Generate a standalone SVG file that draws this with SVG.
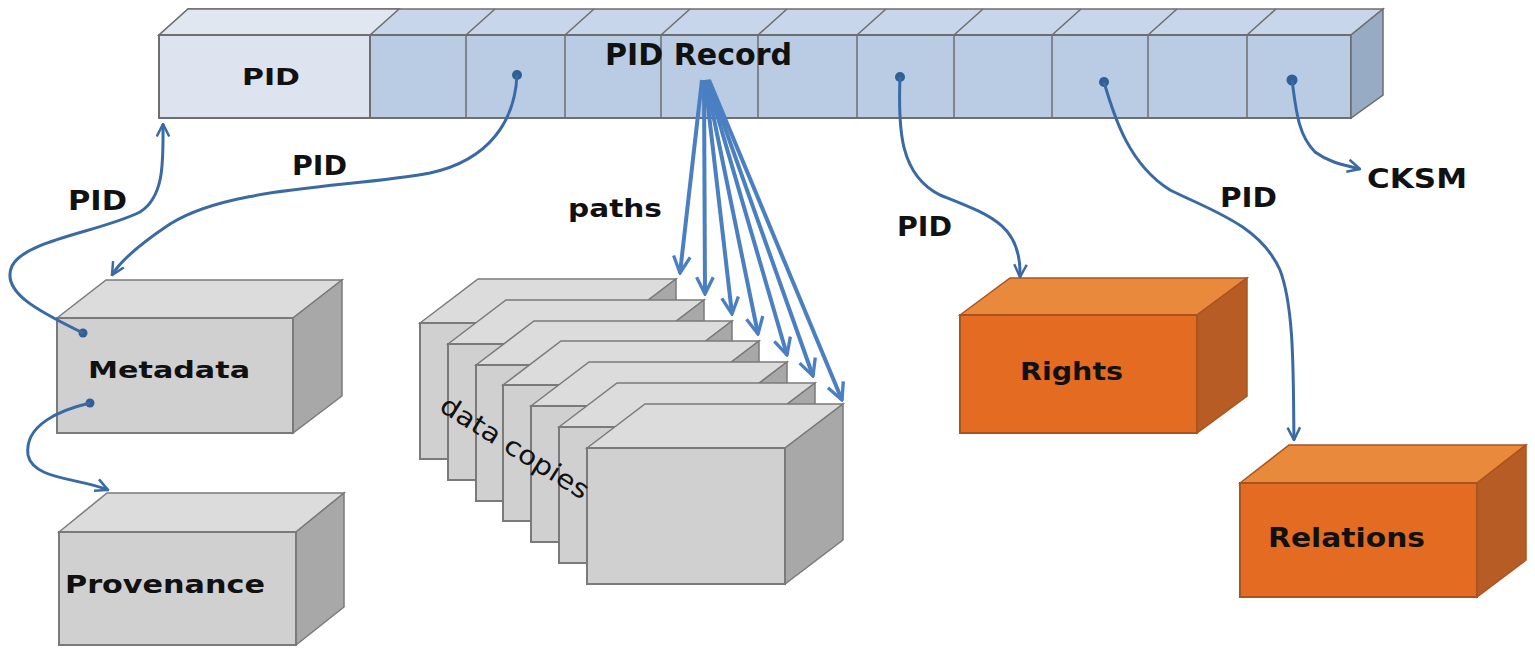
<svg xmlns="http://www.w3.org/2000/svg" width="1535" height="655" viewBox="0 0 1535 655">
<style>
.lbl{font-family:"DejaVu Sans","Liberation Sans",sans-serif;font-weight:bold;fill:#111}
.gf{fill:#d0d0d0;stroke:#7a7a7a;stroke-width:2}
.gt{fill:#dcdcdc;stroke:#7a7a7a;stroke-width:1.5}
.gs{fill:#a8a8a8;stroke:#7a7a7a;stroke-width:1.5}
.of{fill:#e36c22;stroke:#a9541f;stroke-width:2}
.ot{fill:#e9893b;stroke:#a9541f;stroke-width:1.5}
.os{fill:#b85c25;stroke:#a9541f;stroke-width:1.5}
.bf{fill:#b9cce4;stroke:#6e6e6e;stroke-width:2}
.bt{fill:#c7d6ea;stroke:#6e6e6e;stroke-width:1.5}
.bs{fill:#97abc4;stroke:#6e6e6e;stroke-width:1.5}
.div{stroke:#6e6e6e;stroke-width:1.5}
.con{fill:none;stroke:#3a6aa3;stroke-width:3;marker-end:url(#ah)}
.fan{fill:none;stroke:#4a7fc1;stroke-width:4;marker-end:url(#ahf)}
.dot{fill:#2f5f94}
</style>
<defs>
<marker id="ah" viewBox="0 0 12 12" refX="11" refY="6" markerWidth="5" markerHeight="5" orient="auto" markerUnits="strokeWidth">
<path d="M1,1 L11,6 L1,11" fill="none" stroke="#3a6aa3" stroke-width="2"/>
</marker>
<marker id="ahf" viewBox="0 0 12 12" refX="11" refY="6" markerWidth="5" markerHeight="5" orient="auto" markerUnits="strokeWidth">
<path d="M1,1 L11,6 L1,11" fill="none" stroke="#4a7fc1" stroke-width="2"/>
</marker>
</defs>
<rect width="1535" height="655" fill="#fff"/>

<g id="pid-record">
<polygon class="bt" points="159,35 188,9 1383,9 1351,35"/>
<polygon points="159,35 188,9 399,9 370,35" fill="#e0e7f1" stroke="#6e6e6e" stroke-width="1.5"/>
<rect x="159" y="35" width="211" height="83" fill="#dde4ef" stroke="#6e6e6e" stroke-width="2"/>
<rect class="bf" x="370" y="35" width="981" height="83"/>
<polygon class="bs" points="1351,35 1383,9 1383,95 1351,118"/>
<g class="div">
<line x1="466" y1="35" x2="466" y2="118"/><line x1="565" y1="35" x2="565" y2="118"/>
<line x1="661" y1="35" x2="661" y2="118"/><line x1="758" y1="35" x2="758" y2="118"/>
<line x1="857" y1="35" x2="857" y2="118"/><line x1="954" y1="35" x2="954" y2="118"/>
<line x1="1052" y1="35" x2="1052" y2="118"/><line x1="1148" y1="35" x2="1148" y2="118"/>
<line x1="1247" y1="35" x2="1247" y2="118"/>
<line x1="466" y1="35" x2="495" y2="9"/><line x1="565" y1="35" x2="594" y2="9"/>
<line x1="661" y1="35" x2="690" y2="9"/><line x1="758" y1="35" x2="787" y2="9"/>
<line x1="857" y1="35" x2="886" y2="9"/><line x1="954" y1="35" x2="983" y2="9"/>
<line x1="1052" y1="35" x2="1081" y2="9"/><line x1="1148" y1="35" x2="1177" y2="9"/>
<line x1="1247" y1="35" x2="1276" y2="9"/>
</g>
<text class="lbl" x="242" y="85" font-size="23" textLength="58" lengthAdjust="spacingAndGlyphs">PID</text>
<text class="lbl" x="605" y="65" font-size="30" textLength="187" lengthAdjust="spacingAndGlyphs">PID Record</text>
<circle class="dot" cx="517" cy="75" r="5"/>
<circle class="dot" cx="900" cy="77" r="5"/>
<circle class="dot" cx="1104" cy="82" r="5"/>
<circle class="dot" cx="1292" cy="80" r="5.5"/>
</g>

<g id="data-copies">
<g><polygon class="gt" points="420,323 478,279 676,279 618,323"/><polygon class="gs" points="618,323 676,279 676,415 618,459"/><rect class="gf" x="420" y="323" width="198" height="136"/></g>
<g><polygon class="gt" points="448,344 506,300 704,300 646,344"/><polygon class="gs" points="646,344 704,300 704,436 646,480"/><rect class="gf" x="448" y="344" width="198" height="136"/></g>
<g><polygon class="gt" points="476,365 534,321 732,321 674,365"/><polygon class="gs" points="674,365 732,321 732,457 674,501"/><rect class="gf" x="476" y="365" width="198" height="136"/></g>
<g><polygon class="gt" points="503,385 561,341 759,341 701,385"/><polygon class="gs" points="701,385 759,341 759,477 701,521"/><rect class="gf" x="503" y="385" width="198" height="136"/></g>
<g><polygon class="gt" points="531,406 589,362 787,362 729,406"/><polygon class="gs" points="729,406 787,362 787,498 729,542"/><rect class="gf" x="531" y="406" width="198" height="136"/></g>
<g><polygon class="gt" points="559,427 617,383 815,383 757,427"/><polygon class="gs" points="757,427 815,383 815,519 757,563"/><rect class="gf" x="559" y="427" width="198" height="136"/></g>
<g><polygon class="gt" points="587,448 645,404 843,404 785,448"/><polygon class="gs" points="785,448 843,404 843,540 785,584"/><rect class="gf" x="587" y="448" width="198" height="136"/></g>
<text x="438" y="410" font-family="'DejaVu Sans','Liberation Sans',sans-serif" font-size="26" fill="#111" textLength="170" lengthAdjust="spacingAndGlyphs" transform="rotate(32 438 410)">data copies</text>
</g>

<g id="metadata">
<polygon class="gt" points="57,318 106,280 342,280 293,318"/>
<polygon class="gs" points="293,318 342,280 342,396 293,433"/>
<rect class="gf" x="57" y="318" width="236" height="115"/>
<text class="lbl" x="88" y="378" font-size="23" textLength="162" lengthAdjust="spacingAndGlyphs">Metadata</text>
<circle class="dot" cx="83" cy="333" r="4.5"/>
<circle class="dot" cx="90" cy="403" r="4.5"/>
</g>

<g id="provenance">
<polygon class="gt" points="59,532 107,493 344,493 296,532"/>
<polygon class="gs" points="296,532 344,493 344,607 296,645"/>
<rect class="gf" x="59" y="532" width="237" height="113"/>
<text class="lbl" x="65" y="593" font-size="25" textLength="200" lengthAdjust="spacingAndGlyphs">Provenance</text>
</g>

<g id="rights">
<polygon class="ot" points="960,315 1010,278 1247,278 1197,315"/>
<polygon class="os" points="1197,315 1247,278 1247,396 1197,433"/>
<rect class="of" x="960" y="315" width="237" height="118"/>
<text class="lbl" x="1020" y="380" font-size="25" textLength="103" lengthAdjust="spacingAndGlyphs">Rights</text>
</g>

<g id="relations">
<polygon class="ot" points="1240,483 1289,445 1526,445 1477,483"/>
<polygon class="os" points="1477,483 1526,445 1526,560 1477,597"/>
<rect class="of" x="1240" y="483" width="237" height="114"/>
<text class="lbl" x="1268" y="547" font-size="27" textLength="157" lengthAdjust="spacingAndGlyphs">Relations</text>
</g>

<g id="connectors">
<path class="con" d="M83,333 C40,312 0,292 12,266 C25,240 100,232 140,212 C165,196 163,160 163,124"/>
<path class="con" d="M517,75 C515,120 490,160 430,173 C350,188 230,186 170,224 C140,244 121,260 112,275"/>
<path class="con" d="M90,403 C60,410 24,425 28,455 C33,480 80,478 108,490"/>
<path class="con" d="M900,77 C898,130 900,175 940,195 C990,215 1022,225 1020,277"/>
<path class="con" d="M1104,82 C1115,120 1130,165 1170,190 C1210,210 1260,225 1280,270 C1295,310 1293,380 1294,440"/>
<path class="con" d="M1292,80 C1296,110 1298,135 1315,152 C1330,163 1345,165 1360,169"/>
<line class="fan" x1="702" y1="80" x2="680" y2="273"/>
<line class="fan" x1="704" y1="80" x2="705" y2="294"/>
<line class="fan" x1="705" y1="80" x2="732" y2="314"/>
<line class="fan" x1="706" y1="80" x2="758" y2="334"/>
<line class="fan" x1="707" y1="80" x2="787" y2="355"/>
<line class="fan" x1="708" y1="80" x2="813" y2="376"/>
<line class="fan" x1="709" y1="80" x2="842" y2="400"/>
<text class="lbl" x="68" y="210" font-size="26" textLength="59" lengthAdjust="spacingAndGlyphs">PID</text>
<text class="lbl" x="292" y="175" font-size="26" textLength="55" lengthAdjust="spacingAndGlyphs">PID</text>
<text class="lbl" x="568" y="217" font-size="25" textLength="94" lengthAdjust="spacingAndGlyphs">paths</text>
<text class="lbl" x="897" y="236" font-size="26" textLength="55" lengthAdjust="spacingAndGlyphs">PID</text>
<text class="lbl" x="1220" y="207" font-size="27" textLength="57" lengthAdjust="spacingAndGlyphs">PID</text>
<text class="lbl" x="1367" y="188" font-size="27" textLength="100" lengthAdjust="spacingAndGlyphs">CKSM</text>
</g>
</svg>
